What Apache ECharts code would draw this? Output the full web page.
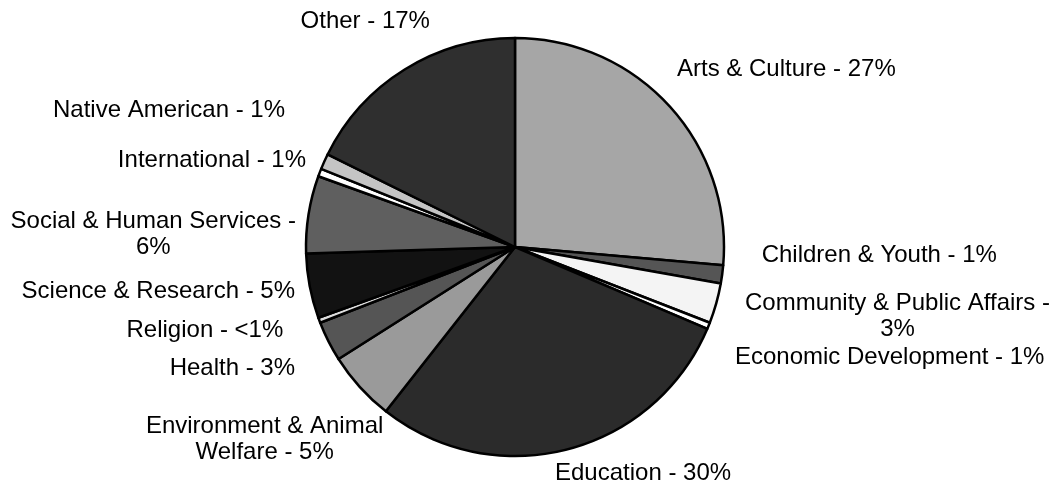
<!DOCTYPE html>
<html>
<head>
<meta charset="utf-8">
<script src="https://cdn.jsdelivr.net/npm/echarts@6/dist/echarts.min.js"></script>
<style>
html,body{margin:0;padding:0;background:#fff;}
#chart{width:1055px;height:489px;}
</style>
</head>
<body>
<div id="chart"></div>
<script>
// ---- data ----
const categories = [
  'Arts & Culture', 'Children & Youth', 'Community & Public Affairs', 'Economic Development',
  'Education', 'Environment & Animal Welfare', 'Health', 'Religion', 'Science & Research',
  'Social & Human Services', 'International', 'Native American', 'Other'
];
const values = [26.4, 1.4, 3.1, 0.5, 29.2, 5.4, 3.1, 0.4, 5.0, 6.0, 0.6, 1.2, 17.7];
const percentLabels = ['27%', '1%', '3%', '1%', '30%', '5%', '3%', '<1%', '5%', '6%', '1%', '1%', '17%'];

// ---- styling / layout ----
const colors = ['#a6a6a6', '#555555', '#f4f4f4', '#ffffff', '#2b2b2b', '#9a9a9a', '#555555',
                '#dddddd', '#121212', '#5f5f5f', '#ffffff', '#c4c4c4', '#2f2f2f'];
// leader-line lengths [length, length2] that place each label where the original chart puts it
const leader = [
  [54.6, -37.4], [-148.2, 181.4], [49.6, -24], [84.2, -56.6], [24.6, -23.1], [77.3, -85.7],
  [61, -26], [30.1, 2.8], [29.5, -19.3], [-128.4, 134.4], [34.3, -23.3], [124.6, -79.5], [56.5, -60.1]
];
const breakAfter = { 2: 'Affairs -', 5: 'Animal', 9: 'Services -' };
const font = { fontSize: 24, fontFamily: 'Liberation Sans, Arial, sans-serif', color: '#000', lineHeight: 26 };

function labelText(i) {
  let s = categories[i] + ' - ' + percentLabels[i];
  if (breakAfter[i]) s = s.replace(breakAfter[i] + ' ', breakAfter[i] + '\n');
  return s.split('\n').map(l => '{c|' + l + '}').join('\n');
}

const chart = echarts.init(document.getElementById('chart'), null, { renderer: 'canvas' });
chart.setOption({
  backgroundColor: '#ffffff',
  animation: false,
  series: [{
    type: 'pie',
    center: [515, 247],
    radius: 209,
    startAngle: 90,
    clockwise: true,
    avoidLabelOverlap: false,
    itemStyle: { borderColor: '#000', borderWidth: 2.5 },
    label: Object.assign({
      show: true,
      position: 'outer',
      overflow: 'none',
      bleedMargin: 0,
      distanceToLabelLine: 5,
      formatter: p => labelText(p.dataIndex),
      rich: { c: Object.assign({ align: 'center' }, font) }
    }, font),
    labelLine: { show: false },
    emphasis: { disabled: true },
    data: categories.map((n, i) => ({
      name: n,
      value: values[i],
      itemStyle: { color: colors[i] },
      labelLine: { length: leader[i][0], length2: leader[i][1] }
    }))
  }]
});
</script>
</body>
</html>
